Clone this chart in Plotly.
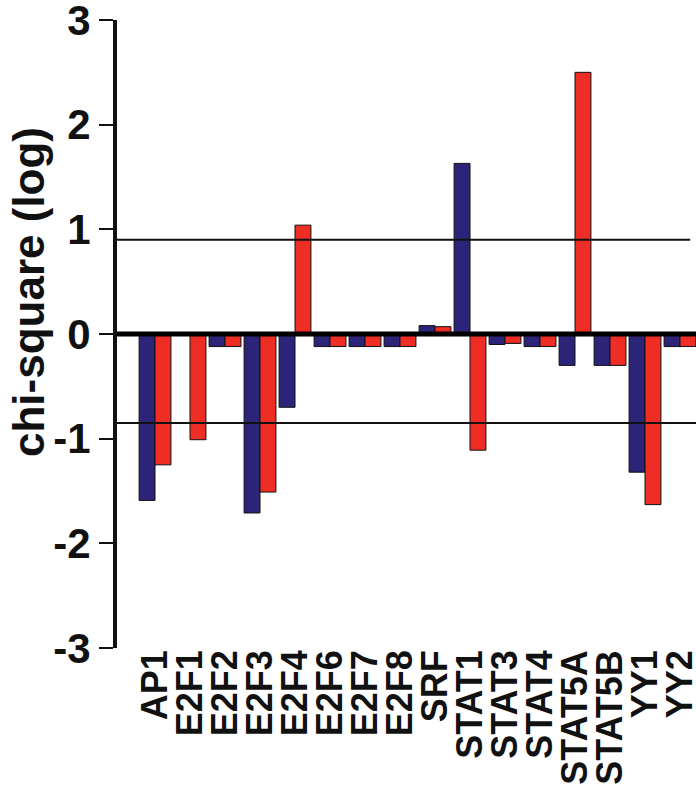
import plotly.graph_objects as go

categories = ["AP1", "E2F1", "E2F2", "E2F3", "E2F4", "E2F6", "E2F7", "E2F8", "SRF",
              "STAT1", "STAT3", "STAT4", "STAT5A", "STAT5B", "YY1", "YY2"]
blue_values = [-1.59, 0.0, -0.12, -1.71, -0.70, -0.12, -0.12, -0.12, 0.08,
               1.63, -0.10, -0.12, -0.30, -0.30, -1.32, -0.12]
red_values = [-1.25, -1.01, -0.12, -1.51, 1.04, -0.12, -0.12, -0.12, 0.07,
              -1.11, -0.09, -0.12, 2.50, -0.30, -1.63, -0.12]
y_ticks = [-3, -2, -1, 0, 1, 2, 3]
y_tick_labels = ["-3", "-2", "-1", "0", "1", "2", "3"]
upper_threshold = 0.90
lower_threshold = -0.85

BLUE = "#2c2479"
RED = "#ee2d25"
FONT = "Arial, Liberation Sans, Helvetica, sans-serif"

fig = go.Figure()
fig.add_trace(go.Bar(x=categories, y=blue_values, marker=dict(color=BLUE, line=dict(color="#111", width=1))))
fig.add_trace(go.Bar(x=categories, y=red_values, marker=dict(color=RED, line=dict(color="#111", width=1))))

fig.add_shape(type="line", xref="paper", yref="y", x0=0, x1=0.99, y0=upper_threshold, y1=upper_threshold,
              line=dict(color="#111", width=2), layer="above")
fig.add_shape(type="line", xref="paper", yref="y", x0=0, x1=1, y0=lower_threshold, y1=lower_threshold,
              line=dict(color="#111", width=2), layer="above")
fig.add_shape(type="line", xref="paper", yref="y", x0=0, x1=1, y0=0, y1=0,
              line=dict(color="#000", width=5), layer="above")

fig.add_annotation(text="chi-square (log)", xref="paper", yref="paper",
                   x=(28 - 117) / 579, y=(648 - 292) / 628, xanchor="center", yanchor="middle",
                   textangle=-90, showarrow=False,
                   font=dict(family=FONT, size=44, color="#111", weight="bold"))

fig.update_layout(
    width=696, height=790,
    margin=dict(l=117, r=0, t=20, b=142, autoexpand=False),
    paper_bgcolor="white", plot_bgcolor="white",
    barmode="group", bargap=0.09, bargroupgap=0,
    showlegend=False,
    font=dict(family=FONT, color="#111"),
)
fig.update_xaxes(range=[-1.086, 15.457], showline=False, showgrid=False, zeroline=False,
                 automargin=False,
                 tickmode="array", tickvals=categories, ticktext=categories,
                 ticks="", tickangle=-90, ticklabeloverflow="allow", ticklabelstandoff=-6,
                 tickfont=dict(family=FONT, size=36, color="#111", weight="bold"))
fig.update_yaxes(range=[-3, 3], tickmode="array", tickvals=y_ticks, ticktext=y_tick_labels,
                 showgrid=False, zeroline=False, ticklabeloverflow="allow", automargin=False,
                 showline=True, linecolor="#111", linewidth=4,
                 ticks="outside", ticklen=14, tickwidth=2, tickcolor="#111",
                 tickfont=dict(family=FONT, size=42, color="#111", weight="bold"))

fig.write_html("out.html", config={"displayModeBar": False},
               post_script="document.body.style.margin='0';document.body.style.overflow='hidden';")
